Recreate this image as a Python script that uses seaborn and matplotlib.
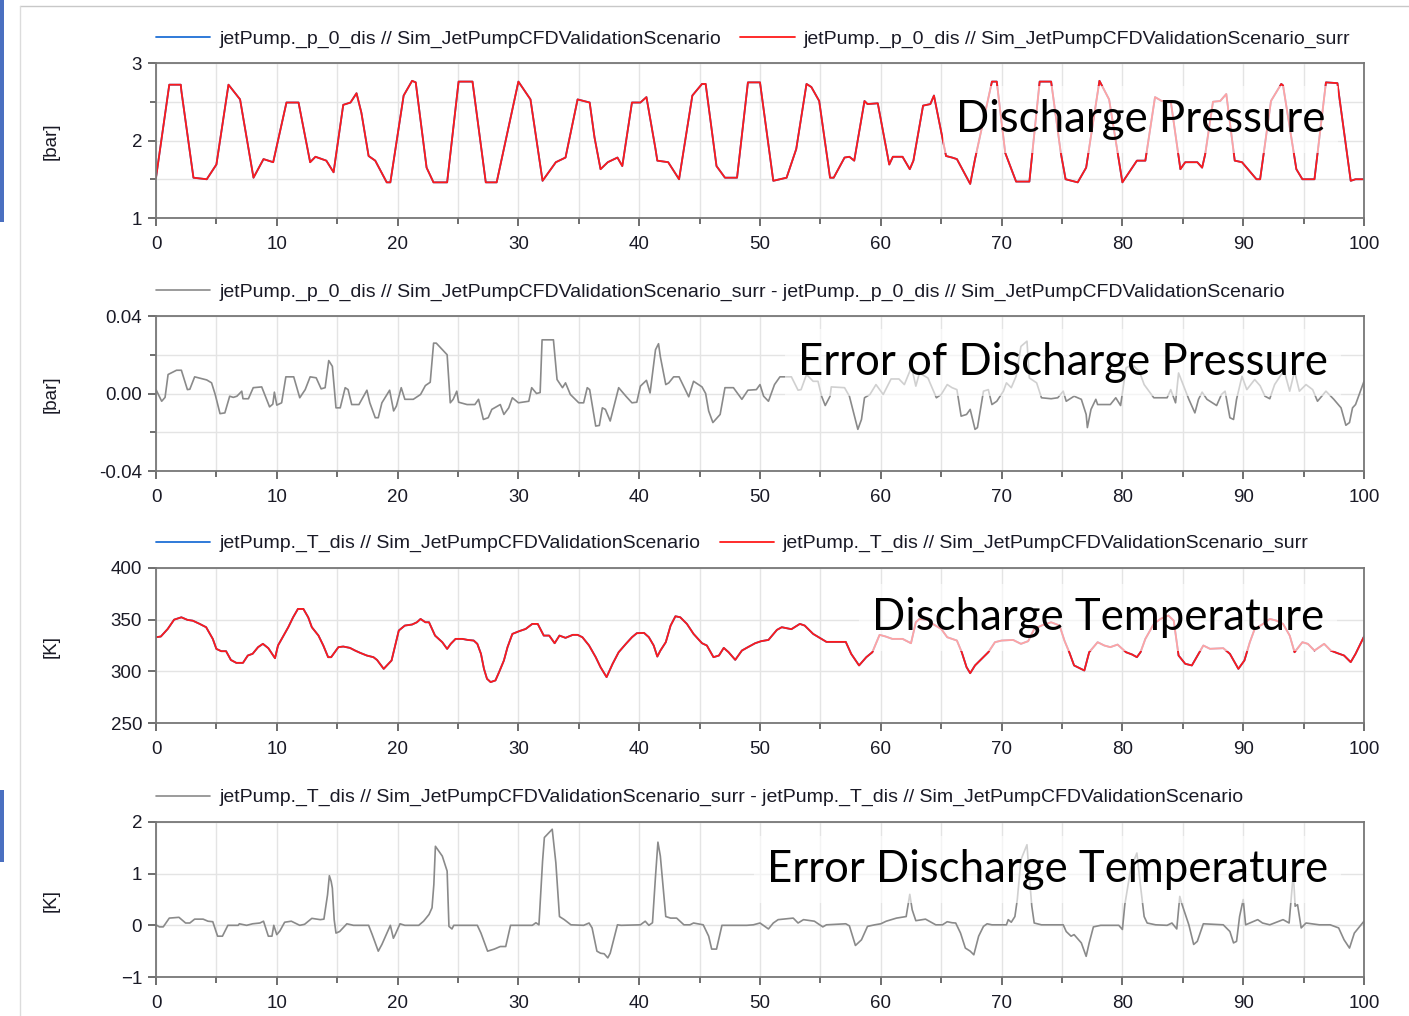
import numpy as np
import matplotlib
matplotlib.use("Agg")
import matplotlib.pyplot as plt
from matplotlib.lines import Line2D
from matplotlib.patches import Rectangle
import seaborn as sns

# ---- discharge pressure (surrogate, red) ----
p_t = [0, 1.1, 2.05, 2.1, 3.1, 4.2, 5.0, 6.0, 6.96, 8.07, 8.9, 9.7, 10.8, 11.8, 12.76, 13.2, 14.1, 14.7,
       15.5, 16.1, 16.6, 17.0, 17.6, 18.15, 19.1, 19.4, 20.5, 21.2, 21.5, 22.4, 22.97, 24.1, 25.05, 26.2,
       27.3, 28.2, 30.0, 31.0, 32.0, 33.1, 33.9, 34.9, 35.9, 36.3, 36.8, 37.4, 38.2, 38.6, 39.4, 40.1,
       40.6, 41.35, 41.5, 42.4, 43.3, 44.4, 45.2, 45.5, 46.4, 47.1, 48.1, 49.0, 50.0, 51.1, 52.2, 53.0,
       53.85, 54.25, 54.9, 55.8, 56.1, 57.0, 57.4, 57.8, 58.65, 58.9, 59.75, 60.7, 61.0, 61.8, 62.4, 62.7,
       63.5, 64.1, 64.4, 65.4, 65.9, 66.3, 67.4, 67.8, 69.2, 69.6, 70.3, 71.2, 72.3, 73.15, 74.1, 74.9,
       75.3, 76.3, 77.0, 78.1, 78.9, 80.0, 81.2, 81.9, 82.7, 83.25, 84.0, 84.8, 85.2, 86.2, 86.6, 86.85,
       87.5, 88.1, 88.6, 89.3, 89.9, 91.1, 91.4, 92.3, 93.15, 93.3, 94.4, 94.9, 95.9, 96.85, 97.8, 98.9,
       99.3, 100]
p_surr = [1.52, 2.72, 2.72, 2.64, 1.52, 1.50, 1.69, 2.72, 2.53, 1.52, 1.76, 1.72, 2.49, 2.49, 1.72, 1.79,
          1.74, 1.59, 2.46, 2.49, 2.61, 2.36, 1.80, 1.74, 1.46, 1.46, 2.58, 2.77, 2.75, 1.65, 1.46, 1.46,
          2.76, 2.76, 1.46, 1.46, 2.76, 2.53, 1.48, 1.72, 1.78, 2.53, 2.49, 2.04, 1.63, 1.72, 1.78, 1.67,
          2.49, 2.49, 2.56, 1.89, 1.74, 1.72, 1.50, 2.58, 2.73, 2.73, 1.67, 1.52, 1.52, 2.75, 2.75, 1.48,
          1.52, 1.89, 2.73, 2.69, 2.51, 1.52, 1.52, 1.78, 1.79, 1.74, 2.51, 2.47, 2.48, 1.69, 1.79, 1.79,
          1.63, 1.74, 2.45, 2.47, 2.58, 1.80, 1.78, 1.76, 1.44, 1.76, 2.76, 2.76, 1.84, 1.47, 1.47, 2.76,
          2.76, 1.84, 1.50, 1.46, 1.65, 2.77, 2.53, 1.46, 1.74, 1.74, 2.56, 2.51, 2.51, 1.63, 1.72, 1.72,
          1.65, 1.82, 2.50, 2.51, 2.60, 1.74, 1.72, 1.50, 1.50, 2.51, 2.73, 2.71, 1.63, 1.50, 1.50, 2.75,
          2.74, 1.48, 1.50, 1.50]
# simulation curve lies under the surrogate at this scale
p_sim = list(p_surr)

# ---- error of discharge pressure ----
pe_t = [0, 0.47, 0.75, 1.0, 1.7, 2.1, 2.6, 2.8, 3.2, 4.2, 4.6, 4.9, 5.3, 5.7, 6.1, 6.4, 6.7, 7.1, 7.2, 7.65,
        8.05, 8.75, 9.4, 9.67, 9.8, 10.0, 10.4, 10.75, 11.4, 11.9, 12.35, 12.76, 13.26, 13.67, 14.0, 14.3,
        14.6, 14.9, 15.25, 15.66, 15.9, 16.2, 16.8, 17.46, 17.7, 18.15, 18.4, 18.7, 19.34, 19.67, 19.9,
        20.3, 20.6, 21.3, 21.9, 22.3, 22.7, 22.98, 23.2, 24.1, 24.36, 24.6, 24.9, 25.05, 25.75, 26.4,
        26.7, 27.1, 27.5, 27.8, 28.5, 28.8, 29.2, 29.5, 30.0, 30.86, 31.1, 31.5, 31.8, 31.96, 32.9, 33.2,
        33.65, 33.9, 34.3, 35.0, 35.4, 35.7, 35.9, 36.4, 36.7, 36.95, 37.2, 37.6, 38.3, 38.9, 39.4, 39.8,
        40.1, 40.6, 40.9, 41.35, 41.6, 41.75, 42.2, 42.45, 42.85, 43.3, 44.1, 44.5, 45.2, 45.5, 45.75,
        46.1, 46.7, 47.1, 47.8, 48.5, 49.0, 49.7, 50.0, 50.3, 50.7, 51.2, 51.65, 52.6, 53.15, 53.4, 53.85,
        54.4, 54.8, 55.1, 55.4, 55.8, 55.9, 57.0, 57.4, 58.1, 58.4, 58.65, 59.1, 59.6, 60.2, 60.85, 61.5,
        61.95, 62.4, 62.5, 62.9, 63.2, 63.9, 64.6, 65.0, 65.5, 65.9, 66.3, 66.65, 67.1, 67.4, 67.8, 68.0,
        68.5, 68.9, 69.2, 69.6, 70.15, 70.4, 70.8, 71.2, 71.6, 72.1, 72.3, 72.9, 73.3, 74.1, 74.65, 75.1,
        75.35, 76.0, 76.6, 77.0, 77.1, 77.4, 77.8, 77.95, 79.0, 79.45, 79.85, 80.3, 80.8, 81.4, 81.8,
        82.6, 83.7, 84.0, 84.4, 84.65, 85.5, 86.0, 86.3, 86.6, 87.0, 87.8, 88.2, 88.5, 88.9, 89.2, 89.45,
        89.9, 90.3, 90.95, 91.4, 91.8, 92.2, 92.6, 93.15, 93.4, 93.85, 94.25, 94.65, 95.2, 95.75, 96.15,
        96.85, 97.5, 98.1, 98.5, 98.8, 99.05, 99.3, 100]
p_err = [0.002, -0.004, -0.002, 0.0098, 0.012, 0.012, 0.002, 0.0022, 0.0086, 0.007, 0.0055, -0.0005,
         -0.0104, -0.010, -0.0014, -0.002, -0.0014, 0.0012, -0.0027, -0.0027, 0.003, 0.0034, -0.0069,
         -0.0055, 0.0007, -0.006, -0.0048, 0.0086, 0.0086, -0.0022, 0.002, 0.0086, 0.0081, 0.0024, 0.003,
         0.017, 0.014, -0.0074, -0.0074, 0.003, 0.002, -0.0057, -0.0057, 0.0017, -0.0048, -0.0125, -0.0125,
         -0.0048, 0.0017, -0.009, -0.0065, 0.003, -0.003, -0.003, -0.0005, 0.0041, 0.0058, 0.026, 0.026,
         0.020, -0.0048, -0.003, 0.0012, -0.0045, -0.0057, -0.0057, -0.003, -0.0134, -0.0125, -0.0082,
         -0.0057, -0.0108, -0.0074, -0.0022, -0.0048, -0.004, 0.003, 0.0, 0.0005, 0.0277, 0.0277, 0.0072,
         0.003, 0.0055, -0.0005, -0.0048, -0.0048, 0.003, 0.002, -0.0168, -0.0165, -0.0074, -0.0082,
         -0.0142, 0.003, -0.0014, -0.0048, -0.0045, 0.0038, 0.0068, 0.0003, 0.0226, 0.0257, 0.019, 0.0046,
         0.0055, 0.0086, 0.0086, -0.0017, 0.0063, 0.0034, 0.0, -0.009, -0.015, -0.0108, 0.003, 0.003,
         -0.003, 0.0017, 0.002, 0.0046, -0.0014, -0.004, 0.0046, 0.0086, 0.0086, 0.0017, 0.002, 0.0098,
         0.0063, 0.0063, -0.0014, -0.0062, -0.0014, 0.0034, 0.003, -0.0014, -0.0185, -0.0134, -0.0022,
         -0.0005, 0.0046, -0.0005, 0.0075, 0.0075, 0.0046, 0.0115, 0.015, 0.0038, 0.0106, 0.008, -0.0022,
         -0.0005, 0.0046, 0.003, 0.002, -0.0117, -0.0108, -0.0082, -0.0185, -0.0176, 0.0012, 0.002,
         -0.0057, -0.004, 0.0012, 0.0055, 0.003, 0.0089, 0.0243, 0.027, 0.008, 0.0055, -0.0022, -0.0027,
         -0.0022, 0.0012, -0.004, -0.0014, -0.003, -0.0108, -0.0176, -0.0082, -0.003, -0.0057, -0.0057,
         -0.0022, -0.0062, 0.0132, 0.015, 0.0115, 0.0046, -0.0022, -0.0022, 0.002, -0.0048, 0.0106,
         -0.003, -0.010, -0.003, 0.0007, -0.003, -0.0062, -0.0005, 0.0012, -0.0125, -0.0134, -0.003,
         0.0089, 0.002, 0.0072, 0.004, -0.0014, -0.0027, 0.0046, 0.0098, 0.0115, 0.0012, 0.0115, 0.0012,
         0.0046, 0.002, -0.004, 0.0012, -0.003, -0.0074, -0.0164, -0.0150, -0.0074, -0.0057, 0.0063]

# ---- discharge temperature (surrogate, red) ----
T_t = [0, 0.4, 0.97, 1.5, 2.1, 2.6, 3.05, 3.6, 4.15, 4.7, 5.0, 5.4, 5.8, 6.2, 6.65, 7.2, 7.6, 8.0, 8.45,
       8.85, 9.3, 9.85, 10.1, 10.95, 11.35, 11.75, 12.2, 12.6, 12.9, 13.45, 13.85, 14.25, 14.5, 15.1, 15.5,
       16.05, 16.5, 16.9, 17.45, 18.0, 18.3, 18.85, 19.25, 19.5, 19.8, 20.1, 20.6, 21.2, 21.6, 21.9, 22.3,
       22.6, 22.85, 23.1, 23.7, 24.1, 24.4, 24.8, 25.35, 25.8, 26.3, 26.6, 26.9, 27.15, 27.4, 27.7, 28.1,
       28.4, 28.8, 29.1, 29.5, 30.05, 30.6, 31.15, 31.6, 32.1, 32.55, 33.0, 33.4, 33.9, 34.5, 34.9, 35.3,
       35.85, 36.4, 36.8, 37.3, 37.8, 38.3, 38.9, 39.4, 39.8, 40.4, 40.8, 41.2, 41.5, 41.75, 42.2, 42.6,
       43.0, 43.4, 43.95, 44.5, 45.2, 45.6, 46.15, 46.6, 47.0, 47.4, 47.95, 48.5, 49.0, 49.6, 50.1, 50.7,
       51.4, 51.8, 52.6, 53.3, 53.7, 54.4, 54.95, 55.5, 57.1, 57.55, 58.2, 58.8, 59.3, 59.9, 60.4, 60.95,
       61.8, 62.5, 62.9, 63.2, 63.9, 64.3, 65.0, 65.5, 65.9, 66.3, 66.7, 67.1, 67.4, 67.8, 68.35, 68.9,
       69.45, 70.0, 70.95, 71.6, 72.2, 72.7, 73.3, 74.1, 74.8, 75.2, 75.6, 76.0, 76.85, 77.25, 77.95,
       78.5, 79.0, 79.6, 80.3, 80.8, 81.2, 81.5, 81.9, 82.6, 83.15, 83.8, 84.25, 84.65, 85.2, 85.75, 86.3,
       86.7, 87.25, 88.35, 88.9, 89.6, 90.1, 90.55, 90.95, 91.65, 92.2, 92.75, 93.3, 93.85, 94.25, 94.9,
       95.35, 95.9, 96.7, 97.25, 97.8, 98.35, 98.9, 99.3, 100]
T_surr = [333, 333.7, 341, 350, 352.3, 349.8, 349, 346, 342.7, 331.4, 321.7, 319.5, 319.5, 311, 308.2,
          308.2, 315.3, 317, 323.4, 326.6, 322.4, 312.7, 325, 342.7, 352.3, 360.4, 360.4, 352.3, 342.7,
          334.6, 325, 313.7, 313.7, 323.4, 324, 322.7, 320, 317.9, 315.3, 313.7, 311, 302.4, 307.3, 310.5,
          325, 339.5, 344.3, 345.3, 347.5, 350.7, 347.5, 347.5, 341, 334.6, 328.2, 321.7, 326.6, 331.4,
          331.4, 330.4, 329.8, 326.6, 317, 302.4, 292.8, 289.6, 291.2, 299.2, 310.5, 323.4, 336.2, 338.8,
          341, 345.9, 345.9, 334.6, 334.6, 327.2, 334.6, 332.4, 335.3, 335.3, 333, 325, 313.7, 304, 294.4,
          307.3, 318.5, 326.6, 333, 336.9, 337.2, 333, 325, 314.3, 320, 328.2, 344.3, 353.3, 352.3, 345.9,
          336.2, 327.2, 325, 313.7, 315.3, 322.7, 318.5, 311.1, 320.1, 323.4, 327.2, 329.2, 330.4, 340.1,
          342.7, 340.8, 345.9, 344.3, 336.2, 332.4, 328.5, 328.5, 316.9, 305.7, 313.7, 318.5, 335.3, 333.7,
          331.4, 331.4, 327.2, 347.5, 350.7, 349.8, 345.9, 341, 333, 331.4, 329.8, 318.5, 304, 298.2,
          305.7, 312.1, 318.5, 328.2, 329.8, 330.4, 326.6, 329.2, 341, 344.3, 347.5, 344.3, 329.8, 318.5,
          305.7, 300.8, 318.5, 328.2, 325, 323.4, 325.9, 318.5, 316.3, 313.7, 318.5, 331.4, 345.9, 350.7,
          354, 349.1, 315.3, 307.3, 305.7, 316.9, 325, 321.8, 322.4, 316.9, 302.4, 310.5, 328.2, 341,
          345.9, 350.7, 349.1, 345.9, 334.6, 318.5, 328.2, 326.6, 320.1, 326.6, 320.1, 317.6, 315.3,
          308.9, 316.9, 333.7]
T_sim = list(T_surr)

# ---- error of discharge temperature ----
Te_t = [0, 0.28, 0.6, 1.1, 1.9, 2.45, 2.8, 3.2, 3.9, 4.3, 4.7, 5.1, 5.5, 5.95, 6.8, 6.9, 7.5, 8.0, 8.6,
        8.9, 9.3, 9.6, 9.75, 10.0, 10.25, 10.65, 11.2, 11.9, 12.3, 12.9, 13.6, 13.9, 14.2, 14.35, 14.5,
        14.6, 14.75, 14.9, 15.2, 15.8, 16.35, 17.6, 17.9, 18.4, 18.7, 19.4, 19.65, 19.8, 20.2, 20.6, 21.75,
        22.15, 22.6, 22.85, 23.0, 23.13, 23.7, 24.1, 24.25, 24.5, 24.65, 26.6, 26.9, 27.45, 28.0, 28.5,
        28.95, 29.35, 31.15, 31.45, 31.7, 32.0, 32.15, 32.8, 33.1, 33.4, 33.8, 34.35, 35.4, 35.85, 36.1,
        36.5, 36.8, 37.1, 37.4, 37.6, 38.2, 38.5, 40.1, 40.5, 40.8, 41.1, 41.35, 41.55, 41.75, 42.2, 42.6,
        43.1, 43.7, 44.2, 44.5, 45.3, 45.75, 46.0, 46.4, 46.85, 48.9, 49.45, 50.0, 50.7, 51.1, 51.5, 52.75,
        53.15, 53.6, 54.5, 55.2, 55.5, 57.1, 57.4, 57.9, 58.4, 58.9, 59.5, 60.0, 60.45, 61.3, 62.1, 62.4,
        62.6, 62.9, 63.7, 64.55, 65.1, 65.5, 65.9, 66.2, 66.6, 67.0, 67.4, 67.7, 68.1, 68.5, 68.8, 69.2,
        70.4, 70.55, 70.8, 71.1, 71.3, 71.6, 72.1, 72.25, 72.5, 72.7, 73.3, 75.1, 75.35, 75.75, 76.0, 76.6,
        77.0, 77.25, 77.6, 78.2, 79.7, 80.0, 80.2, 80.7, 81.2, 81.5, 81.8, 82.05, 82.75, 83.7, 84.1, 84.5,
        84.75, 84.9, 85.5, 85.9, 86.2, 86.7, 88.35, 88.9, 89.2, 89.45, 89.7, 90.0, 90.2, 90.55, 91.2, 91.6,
        92.2, 93.3, 93.8, 94.15, 94.3, 94.5, 94.8, 95.2, 96.3, 97.2, 97.9, 98.35, 98.8, 99.2, 100]
T_err = [0.01, -0.03, -0.03, 0.14, 0.155, 0.045, 0.045, 0.12, 0.12, 0.08, 0.07, -0.21, -0.21, 0.0, 0.0,
         0.03, 0.0, 0.03, 0.045, 0.08, -0.21, -0.21, 0.0, -0.18, -0.11, 0.06, 0.08, 0.0, 0.02, 0.135, 0.11,
         0.12, 0.59, 0.96, 0.85, 0.72, 0.11, -0.15, -0.12, 0.03, 0.0, 0.0, -0.18, -0.5, -0.37, 0.0, -0.25,
         -0.18, 0.03, 0.0, 0.0, 0.08, 0.21, 0.34, 0.79, 1.53, 1.34, 1.05, -0.02, -0.07, 0.0, 0.0, -0.15,
         -0.5, -0.46, -0.41, -0.41, 0.0, 0.0, 0.05, 0.01, 1.24, 1.7, 1.86, 1.21, 0.17, 0.11, 0.01, 0.0,
         0.045, -0.05, -0.5, -0.54, -0.55, -0.63, -0.54, 0.01, 0.0, 0.01, 0.08, 0.0, 0.05, 0.95, 1.61, 1.34,
         0.17, 0.14, 0.14, 0.01, 0.01, 0.045, 0.01, -0.21, -0.46, -0.46, 0.0, 0.0, 0.01, 0.045, -0.07,
         0.045, 0.11, 0.14, 0.045, 0.11, 0.08, -0.03, 0.01, 0.03, -0.01, -0.39, -0.28, -0.02, 0.01, 0.03,
         0.08, 0.14, 0.17, 0.6, 0.3, 0.09, 0.12, 0.01, 0.01, 0.07, 0.05, 0.045, -0.15, -0.44, -0.5, -0.57,
         -0.21, -0.02, 0.03, 0.01, 0.01, 0.11, 0.06, 0.17, 0.5, 1.27, 1.56, 1.08, 0.37, 0.045, 0.01, 0.01,
         -0.12, -0.21, -0.18, -0.34, -0.6, -0.34, -0.03, 0.0, 0.0, -0.08, 0.4, 1.11, 1.4, 0.76, 0.17,
         0.045, 0.01, 0.0, 0.045, -0.07, 0.56, 0.43, 0.01, -0.37, -0.31, 0.03, 0.01, -0.12, -0.34, -0.31,
         0.17, 0.5, 0.01, 0.045, 0.11, 0.045, 0.01, 0.11, 0.045, 1.01, 0.37, 0.4, -0.05, 0.045, 0.01, 0.01,
         -0.05, -0.28, -0.44, -0.15, 0.08]

p_labels = ["jetPump._p_0_dis // Sim_JetPumpCFDValidationScenario",
            "jetPump._p_0_dis // Sim_JetPumpCFDValidationScenario_surr"]
pe_label = ("jetPump._p_0_dis // Sim_JetPumpCFDValidationScenario_surr - "
            "jetPump._p_0_dis // Sim_JetPumpCFDValidationScenario")
T_labels = ["jetPump._T_dis // Sim_JetPumpCFDValidationScenario",
            "jetPump._T_dis // Sim_JetPumpCFDValidationScenario_surr"]
Te_label = ("jetPump._T_dis // Sim_JetPumpCFDValidationScenario_surr - "
            "jetPump._T_dis // Sim_JetPumpCFDValidationScenario")
titles = ["Discharge Pressure", "Error of Discharge Pressure",
          "Discharge Temperature", "Error Discharge Temperature"]
units = ["[bar]", "[bar]", "[K]", "[K]"]

BLUE = "#1f6fd6"
RED = "#ff1a1a"
GREY = "#8a8a8a"
TXT = "#1a1a26"

sns.set_theme(style="white")
plt.rcParams["font.family"] = ["Liberation Sans", "DejaVu Sans"]

W, H = 1409, 1016
fig = plt.figure(figsize=(W / 100, H / 100), dpi=100)

tops = [63, 316, 568, 822]
ax_h = 155
axes = [fig.add_axes([156 / W, 1 - (t + ax_h) / H, 1208 / W, ax_h / H]) for t in tops]

def style(ax, ylim, major, minor, fmt=None):
    ax.set_xlim(0, 100)
    ax.set_ylim(*ylim)
    ax.set_xticks(np.arange(0, 101, 10))
    ax.set_xticks(np.arange(5, 100, 10), minor=True)
    ax.set_yticks(major)
    if fmt:
        ax.set_yticklabels(fmt)
    ax.set_yticks(minor, minor=True)
    ax.grid(True, which="both", color="#e4e4e4", lw=1.0)
    ax.set_axisbelow(True)
    for s in ax.spines.values():
        s.set_color("#777777")
        s.set_linewidth(1.3)
    ax.tick_params(which="both", direction="out", colors="#555555", labelcolor=TXT,
                   labelsize=13.5, left=True, bottom=True, width=1.2)
    ax.tick_params(which="major", length=6, pad=4)
    ax.tick_params(axis="x", which="major", pad=7)
    ax.tick_params(which="minor", length=4)
    ax.set_xlabel("")
    ax.set_ylabel("")

def legend(ax, handles, labels, spacing=1.0):
    ax.legend(handles, labels, loc="lower left", bbox_to_anchor=(0, 1.1), ncol=2,
              frameon=False, fontsize=14, handlelength=2.8, handletextpad=0.45,
              columnspacing=spacing, borderpad=0, borderaxespad=0,
              labelcolor=TXT)

# panel 1
ax = axes[0]
sns.lineplot(x=p_t, y=p_sim, ax=ax, color=BLUE, lw=1.3, estimator=None, sort=False)
sns.lineplot(x=p_t, y=p_surr, ax=ax, color=RED, lw=1.3, estimator=None, sort=False)
style(ax, (1, 3), [1, 2, 3], [1.5, 2.5])
legend(ax, [Line2D([], [], color=BLUE, lw=1.3), Line2D([], [], color=RED, lw=1.3)], p_labels)

# panel 2
ax = axes[1]
sns.lineplot(x=pe_t, y=p_err, ax=ax, color=GREY, lw=1.2, estimator=None, sort=False)
style(ax, (-0.04, 0.04), [-0.04, 0, 0.04], [-0.02, 0.02], ["-0.04", "0.00", "0.04"])
legend(ax, [Line2D([], [], color=GREY, lw=1.2)], [pe_label])

# panel 3
ax = axes[2]
sns.lineplot(x=T_t, y=T_sim, ax=ax, color=BLUE, lw=1.3, estimator=None, sort=False)
sns.lineplot(x=T_t, y=T_surr, ax=ax, color=RED, lw=1.3, estimator=None, sort=False)
style(ax, (250, 400), [250, 300, 350, 400], [])
legend(ax, [Line2D([], [], color=BLUE, lw=1.3), Line2D([], [], color=RED, lw=1.3)], T_labels)

# panel 4
ax = axes[3]
sns.lineplot(x=Te_t, y=T_err, ax=ax, color=GREY, lw=1.2, estimator=None, sort=False)
style(ax, (-1, 2), [-1, 0, 1, 2], [])
legend(ax, [Line2D([], [], color=GREY, lw=1.2)], [Te_label])

# unit labels
for t, u in zip(tops, units):
    fig.text(51 / W, 1 - (t + 78) / H, u, rotation=90, ha="center", va="center",
             fontsize=13.5, color=TXT)

# big overlay titles
title_pos = [(1325, 132), (1328, 375), (1324, 630), (1328, 882)]
for (x, y), s in zip(title_pos, titles):
    fig.text(x / W, 1 - y / H, s, ha="right", va="baseline", fontsize=31.5,
             family=["Lato", "DejaVu Sans"], color="black",
             bbox=dict(boxstyle="square,pad=0.3", fc="white", ec="none", alpha=0.6))

# screenshot frame bits
fig.add_artist(Line2D([20 / W, 1], [1 - 6 / H, 1 - 6 / H], color="#c8c8c8", lw=1))
fig.add_artist(Line2D([20 / W, 20 / W], [0, 1 - 6 / H], color="#dcdcdc", lw=1))
fig.add_artist(Rectangle((0, 1 - 222 / H), 4 / W, 222 / H, color="#4a6fc0", lw=0))
fig.add_artist(Rectangle((0, 1 - 862 / H), 4 / W, 72 / H, color="#4a6fc0", lw=0))

fig.savefig("out.png", dpi=100)
